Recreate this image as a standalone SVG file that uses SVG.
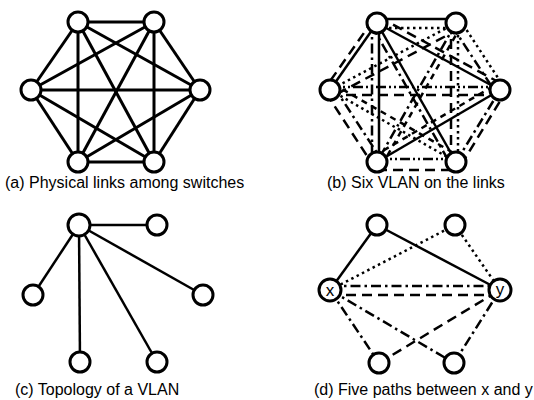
<svg xmlns="http://www.w3.org/2000/svg" width="534" height="400" viewBox="0 0 534 400">
<style>
text{font-family:"Liberation Sans",Arial,sans-serif;fill:#000}
.lbl{font-size:16px}
.n{fill:#fff;stroke:#000;stroke-width:3}
.e{stroke:#000;stroke-width:3;fill:none}
.eb{stroke:#000;stroke-width:2.5;fill:none}
.dot{stroke-dasharray:2.5 3.5}
.ld{stroke-dasharray:10 6}
.dd{stroke-dasharray:10 4 2.5 4}
.sd{stroke-dasharray:6 5}
.d2{stroke-dasharray:10 3 2 3 2 3}
</style>
<rect width="534" height="400" fill="#fff"/>

<!-- Panel (a) -->
<g id="a-edges" class="e">
<line x1="78" y1="22" x2="154" y2="22"/>
<line x1="78" y1="22" x2="31" y2="90"/>
<line x1="78" y1="22" x2="200" y2="90"/>
<line x1="78" y1="22" x2="78" y2="162"/>
<line x1="78" y1="22" x2="154" y2="162"/>
<line x1="154" y1="22" x2="31" y2="90"/>
<line x1="154" y1="22" x2="200" y2="90"/>
<line x1="154" y1="22" x2="78" y2="162"/>
<line x1="154" y1="22" x2="154" y2="162"/>
<line x1="31" y1="90" x2="200" y2="90"/>
<line x1="31" y1="90" x2="78" y2="162"/>
<line x1="31" y1="90" x2="154" y2="162"/>
<line x1="200" y1="90" x2="78" y2="162"/>
<line x1="200" y1="90" x2="154" y2="162"/>
<line x1="78" y1="162" x2="154" y2="162"/>
</g>
<g id="a1"><circle class="n" cx="78" cy="22" r="10"/></g>
<g id="a2"><circle class="n" cx="154" cy="22" r="10"/></g>
<g id="a3"><circle class="n" cx="31" cy="90" r="10"/></g>
<g id="a4"><circle class="n" cx="200" cy="90" r="10"/></g>
<g id="a5"><circle class="n" cx="78" cy="162" r="10"/></g>
<g id="a6"><circle class="n" cx="154" cy="162" r="10"/></g>
<text class="lbl" x="5" y="188">(a) Physical links among switches</text>

<!-- Panel (b) -->
<g id="b-edges" class="eb">
<line x1="377" y1="19" x2="456" y2="19"/>
<line class="dot" x1="377" y1="28" x2="456" y2="28"/>
<line x1="377" y1="23" x2="330" y2="90"/>
<line class="ld" x1="373" y1="20" x2="326" y2="87"/>
<line x1="379" y1="23" x2="379" y2="162"/>
<line class="dd" x1="372" y1="23" x2="372" y2="162"/>
<line x1="377" y1="23" x2="500" y2="90"/>
<line class="ld" x1="379" y1="17" x2="502" y2="84"/>
<line x1="377" y1="23" x2="456" y2="162"/>
<line class="dd" x1="372" y1="26" x2="451" y2="165"/>
<line class="dot" x1="456" y1="23" x2="330" y2="90"/>
<line class="ld" x1="459" y1="29" x2="333" y2="96"/>
<line class="dot" x1="460" y1="20" x2="504" y2="87"/>
<line class="dd" x1="452" y1="26" x2="496" y2="93"/>
<line class="dd" x1="456" y1="23" x2="377" y2="162"/>
<line class="sd" x1="461" y1="26" x2="382" y2="165"/>
<line class="dot" x1="458" y1="23" x2="458" y2="162"/>
<line class="ld" x1="451" y1="23" x2="451" y2="162"/>
<line class="ld" x1="330" y1="95" x2="500" y2="95"/>
<line class="d2" x1="330" y1="87" x2="500" y2="87"/>
<line class="ld" x1="326" y1="93" x2="373" y2="165"/>
<line class="dd" x1="334" y1="87" x2="381" y2="159"/>
<line class="dot" x1="330" y1="90" x2="456" y2="162"/>
<line class="sd" x1="333" y1="84" x2="459" y2="156"/>
<line x1="377" y1="162" x2="500" y2="90"/>
<line class="sd" x1="374" y1="156" x2="497" y2="84"/>
<line class="ld" x1="377" y1="170" x2="456" y2="170"/>
<line class="d2" x1="377" y1="159" x2="456" y2="159"/>
<line class="dd" x1="456" y1="162" x2="500" y2="90"/>
<line class="ld" x1="461" y1="165" x2="505" y2="93"/>
</g>
<g id="b1"><circle class="n" cx="377" cy="23" r="10"/></g>
<g id="b2"><circle class="n" cx="456" cy="23" r="10"/></g>
<g id="b3"><circle class="n" cx="330" cy="90" r="10"/></g>
<g id="b4"><circle class="n" cx="500" cy="90" r="10"/></g>
<g id="b5"><circle class="n" cx="377" cy="162" r="10"/></g>
<g id="b6"><circle class="n" cx="456" cy="162" r="10"/></g>
<text class="lbl" x="327" y="188">(b) Six VLAN on the links</text>

<!-- Panel (c) -->
<g id="c-edges" class="eb">
<line x1="79" y1="225" x2="157" y2="225"/>
<line x1="79" y1="225" x2="33" y2="295"/>
<line x1="79" y1="225" x2="203" y2="295"/>
<line x1="79" y1="225" x2="80" y2="362"/>
<line x1="79" y1="225" x2="157" y2="362"/>
</g>
<g id="c1"><circle class="n" cx="79" cy="225" r="11"/></g>
<g id="c2"><circle class="n" cx="157" cy="225" r="10"/></g>
<g id="c3"><circle class="n" cx="33" cy="295" r="10"/></g>
<g id="c4"><circle class="n" cx="203" cy="295" r="10"/></g>
<g id="c5"><circle class="n" cx="80" cy="362" r="10"/></g>
<g id="c6"><circle class="n" cx="157" cy="362" r="10"/></g>
<text class="lbl" x="15" y="395">(c) Topology of a VLAN</text>

<!-- Panel (d) -->
<g id="d-edges" class="eb">
<line x1="330" y1="290" x2="377" y2="225"/>
<line x1="377" y1="225" x2="500" y2="290"/>
<line class="dot" x1="330" y1="290" x2="455" y2="225"/>
<line class="dot" x1="455" y1="225" x2="500" y2="290"/>
<line class="dd" x1="330" y1="286" x2="500" y2="286"/>
<line class="ld" x1="330" y1="295" x2="500" y2="295"/>
<line class="dd" x1="330" y1="290" x2="379" y2="363"/>
<line class="ld" x1="379" y1="363" x2="500" y2="290"/>
<line class="dd" x1="330" y1="290" x2="454" y2="363"/>
<line class="dd" x1="454" y1="363" x2="500" y2="290"/>
</g>
<g id="dx"><circle class="n" cx="330" cy="290" r="11"/><text x="330" y="296" font-size="17" text-anchor="middle">x</text></g>
<g id="d1"><circle class="n" cx="377" cy="225" r="10"/></g>
<g id="d2"><circle class="n" cx="455" cy="225" r="10"/></g>
<g id="dy"><circle class="n" cx="500" cy="290" r="11"/><text x="500" y="295" font-size="17" text-anchor="middle">y</text></g>
<g id="d5"><circle class="n" cx="379" cy="363" r="10"/></g>
<g id="d6"><circle class="n" cx="454" cy="363" r="10"/></g>
<text class="lbl" x="314" y="395">(d) Five paths between x and y</text>
</svg>
